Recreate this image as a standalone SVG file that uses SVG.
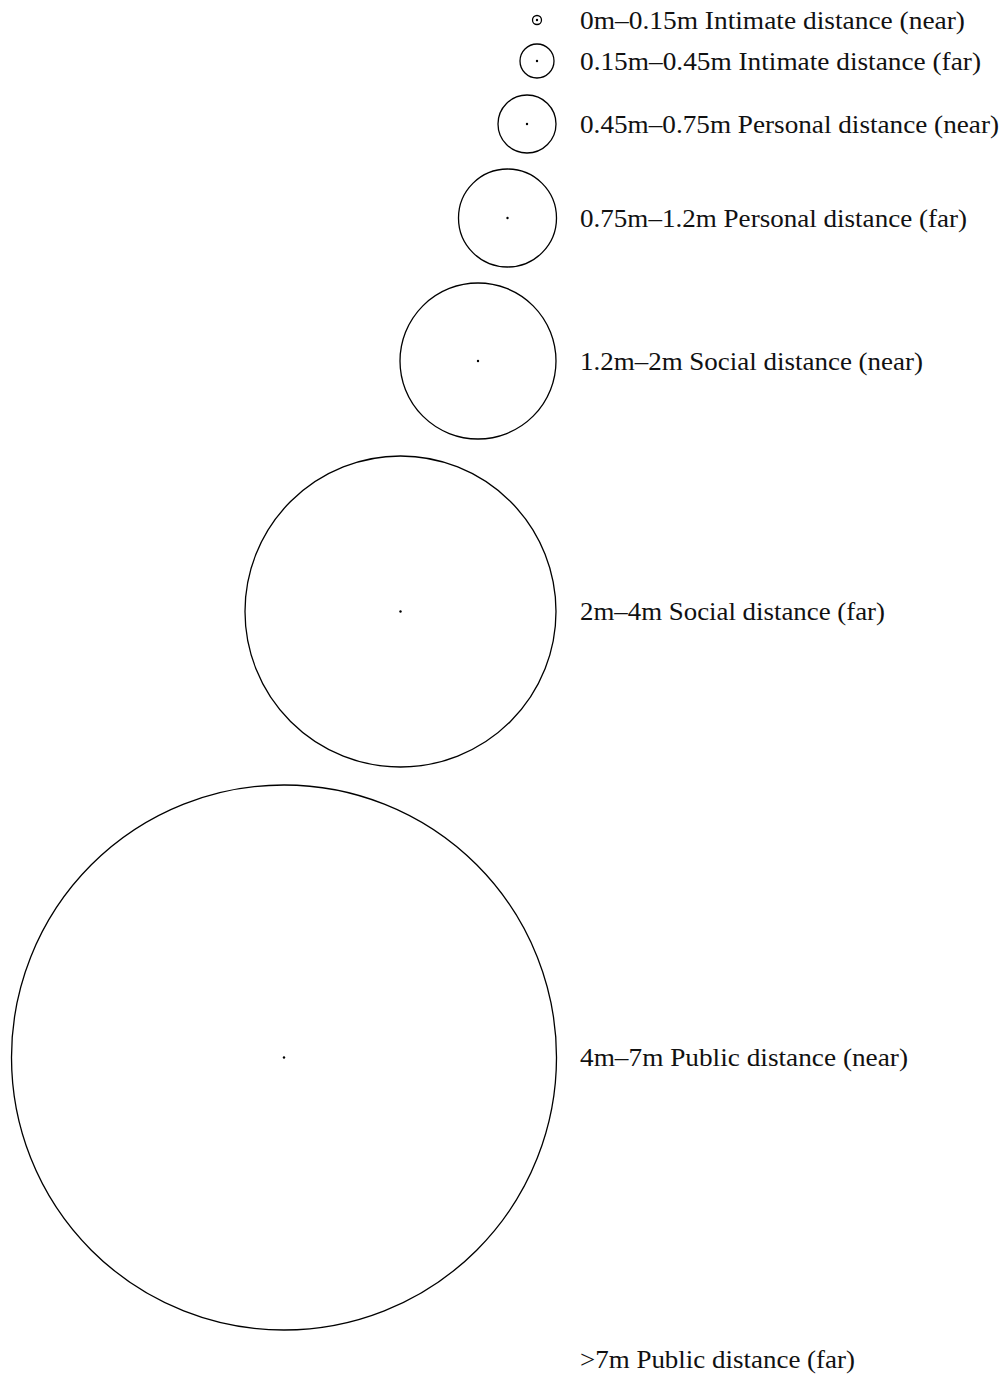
<svg xmlns="http://www.w3.org/2000/svg" width="1007" height="1377" viewBox="0 0 1007 1377">
<style>
.z{fill:none;stroke:#000;stroke-width:1.3}
.d{fill:#000}
text{font-family:"Liberation Serif",serif;font-size:25px;fill:#111}
</style>
<rect width="1007" height="1377" fill="#fff"/>
<g id="n1"><circle class="z" cx="537" cy="20" r="4.5"/><circle class="d" cx="537" cy="20" r="1.2"/><text x="580" y="28.5" textLength="385" lengthAdjust="spacingAndGlyphs">0m–0.15m Intimate distance (near)</text></g>
<g id="n2"><circle class="z" cx="537" cy="61" r="17"/><circle class="d" cx="537" cy="61" r="1.2"/><text x="580" y="69.5" textLength="401" lengthAdjust="spacingAndGlyphs">0.15m–0.45m Intimate distance (far)</text></g>
<g id="n3"><circle class="z" cx="527" cy="124" r="29"/><circle class="d" cx="527" cy="124" r="1.2"/><text x="580" y="132.5" textLength="419" lengthAdjust="spacingAndGlyphs">0.45m–0.75m Personal distance (near)</text></g>
<g id="n4"><circle class="z" cx="507.5" cy="218" r="49"/><circle class="d" cx="507.5" cy="218" r="1.2"/><text x="580" y="226.5" textLength="387" lengthAdjust="spacingAndGlyphs">0.75m–1.2m Personal distance (far)</text></g>
<g id="n5"><circle class="z" cx="478" cy="361" r="78"/><circle class="d" cx="478" cy="361" r="1.2"/><text x="580" y="369.5" textLength="343" lengthAdjust="spacingAndGlyphs">1.2m–2m Social distance (near)</text></g>
<g id="n6"><circle class="z" cx="400.5" cy="611.5" r="155.5"/><circle class="d" cx="400.5" cy="611.5" r="1.2"/><text x="580" y="619.5" textLength="305" lengthAdjust="spacingAndGlyphs">2m–4m Social distance (far)</text></g>
<g id="n7"><circle class="z" cx="284" cy="1057.5" r="272.5"/><circle class="d" cx="284" cy="1057.5" r="1.2"/><text x="580" y="1065.5" textLength="328" lengthAdjust="spacingAndGlyphs">4m–7m Public distance (near)</text></g>
<g id="n8"><text x="580" y="1367.5" textLength="275" lengthAdjust="spacingAndGlyphs">&gt;7m Public distance (far)</text></g>
<g id="connectors"/>
</svg>
